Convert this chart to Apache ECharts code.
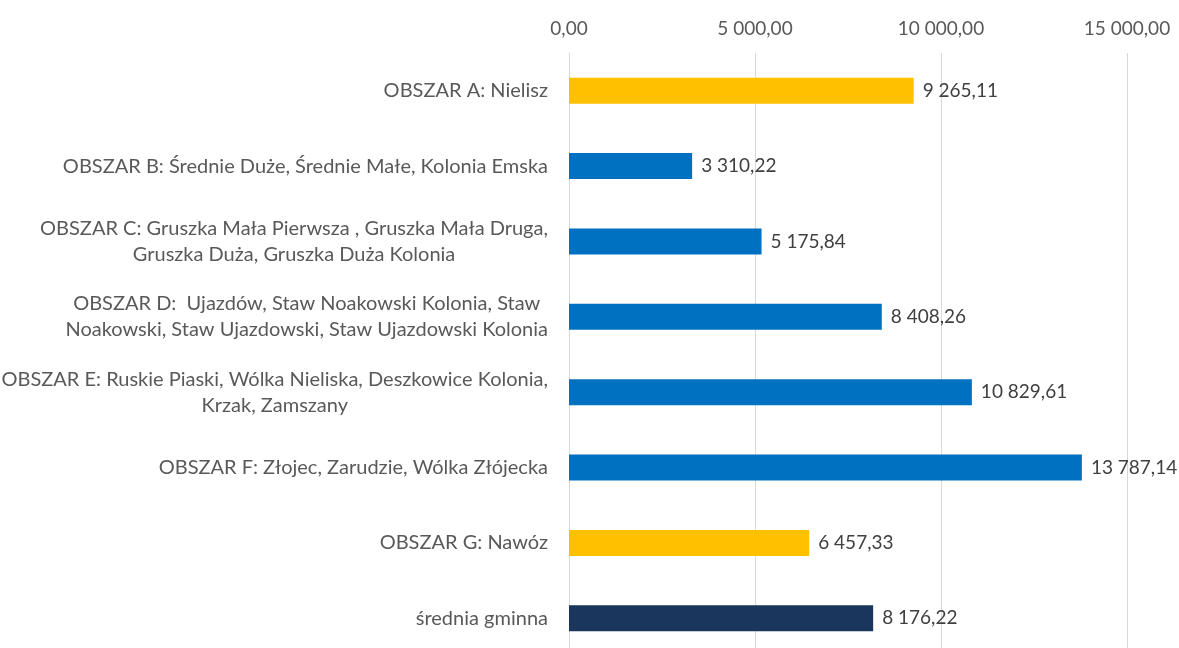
<!DOCTYPE html>
<html>
<head>
<meta charset="utf-8">
<script src="https://cdn.jsdelivr.net/npm/echarts@6/dist/echarts.min.js"></script>
<style>
    html, body { margin: 0; padding: 0; background: #ffffff; }
    #chart { width: 1179px; height: 648px; }
</style>
</head>
<body>
<div id="chart"></div>
<script>
// dane
const categories = [
    'OBSZAR A: Nielisz',
    'OBSZAR B: Średnie Duże, Średnie Małe, Kolonia Emska',
    'OBSZAR C: Gruszka Mała Pierwsza , Gruszka Mała Druga,\nGruszka Duża, Gruszka Duża Kolonia',
    'OBSZAR D:  Ujazdów, Staw Noakowski Kolonia, Staw\nNoakowski, Staw Ujazdowski, Staw Ujazdowski Kolonia',
    'OBSZAR E: Ruskie Piaski, Wólka Nieliska, Deszkowice Kolonia,\nKrzak, Zamszany',
    'OBSZAR F: Złojec, Zarudzie, Wólka Złójecka',
    'OBSZAR G: Nawóz',
    'średnia gminna'
];
const values = [9265.11, 3310.22, 5175.84, 8408.26, 10829.61, 13787.14, 6457.33, 8176.22];
const highlighted = ['OBSZAR A: Nielisz', 'OBSZAR G: Nawóz'];
const averageName = 'średnia gminna';
const xTicks = [0, 5000, 10000, 15000];

const chart = echarts.init(document.getElementById('chart'));

// format polski: 9 265,11
const fmt = (v) => {
    const parts = Number(v).toFixed(2).split('.');
    return parts[0].replace(/\B(?=(\d{3})+(?!\d))/g, ' ') + ',' + parts[1];
};

const colorFor = (name) => {
    if (highlighted.includes(name)) return '#FFC000';
    if (name === averageName) return '#1A365D';
    return '#0070C0';
};

const font = 'Lato';
const fontSize = 19;

const option = {
    animation: false,
    grid: {
        left: 569,
        right: 52,
        top: 53,
        height: 603,
        outerBoundsMode: 'none'
    },
    xAxis: {
        type: 'value',
        position: 'top',
        min: xTicks[0],
        max: xTicks[xTicks.length - 1],
        interval: xTicks[1] - xTicks[0],
        axisLine: { show: false },
        axisTick: { show: false },
        splitLine: { show: true, lineStyle: { color: '#D9D9D9', width: 1 } },
        axisLabel: {
            margin: 15,
            fontSize: fontSize,
            fontFamily: font,
            color: '#595959',
            formatter: (v) => fmt(v)
        }
    },
    yAxis: {
        type: 'category',
        inverse: true,
        data: categories,
        axisLine: { show: true, lineStyle: { color: '#D9D9D9' } },
        axisTick: { show: false },
        axisLabel: {
            margin: 21,
            lineHeight: 26,
            // każda linia wyśrodkowana w bloku
            formatter: (v) => v.split('\n').map(l => '{c|' + l + '}').join('\n'),
            rich: {
                c: {
                    align: 'center',
                    fontSize: 20,
                    lineHeight: 26,
                    fontFamily: font,
                    color: '#595959'
                }
            }
        }
    },
    series: [
        {
            type: 'bar',
            barWidth: 26,
            data: values.map((v, i) => ({
                value: v,
                itemStyle: { color: colorFor(categories[i]) }
            })),
            label: {
                show: true,
                position: 'right',
                distance: 9,
                fontSize: fontSize,
                fontFamily: font,
                color: '#404040',
                formatter: (p) => fmt(p.value)
            }
        }
    ]
};

chart.setOption(option);
</script>
</body>
</html>
